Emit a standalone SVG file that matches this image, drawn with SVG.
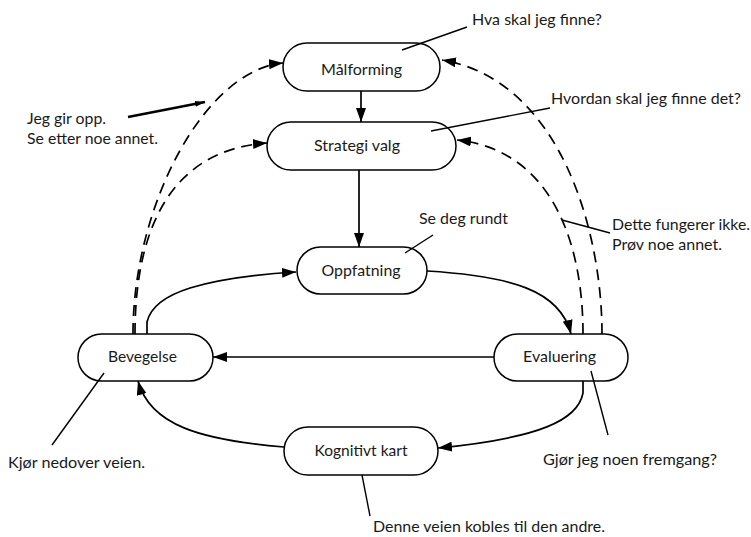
<svg xmlns="http://www.w3.org/2000/svg" width="751" height="537" viewBox="0 0 751 537">
  <defs>
    <marker id="arrow" viewBox="0 0 14 10" refX="14" refY="5" markerWidth="14" markerHeight="10" orient="auto" markerUnits="userSpaceOnUse">
      <path d="M0,0 L14,5 L0,10 z" fill="#000"/>
    </marker>
    <marker id="tip" viewBox="0 0 10 6" refX="10" refY="3" markerWidth="10" markerHeight="6" orient="auto" markerUnits="userSpaceOnUse">
      <path d="M0,0 L10,3 L0,6 z" fill="#000"/>
    </marker>
    <style>
      .node rect { fill: #fff; stroke: #000; stroke-width: 1.5; }
      .node text { font-family: Lato, "Open Sans", sans-serif; font-size: 15px; fill: #1a1a1a; text-anchor: middle; }
      .flow { fill: none; stroke: #000; stroke-width: 1.7; marker-end: url(#arrow); }
      .back { fill: none; stroke: #000; stroke-width: 1.7; stroke-dasharray: 11 7; marker-end: url(#arrow); }
      .note { fill: none; stroke: #000; stroke-width: 1.4; }
      .label { font-family: Lato, "Open Sans", sans-serif; font-size: 16px; fill: #1a1a1a; }
    </style>
  </defs>

  <rect width="751" height="537" fill="#fff"/>

  <!-- connectors -->
  <g id="connectors">
    <path class="flow" d="M361,91 L361,122"/>
    <path class="flow" d="M359,170 L359,247"/>
    <path class="flow" d="M494,357 L213,357"/>
    <path class="flow" d="M147,334 L147,322 Q152,300 190,288 Q230,276 296,272"/>
    <path class="flow" d="M427,271 C510,276 560,290 571,334"/>
    <path class="flow" d="M583,381 L583,393 C578,420 540,438 438,448"/>
    <path class="flow" d="M284,447 C200,440 150,425 138,381"/>

    <!-- dashed loops back to goal and strategy -->
    <path class="back" d="M133,334 C133,205 205,70 283,63"/>
    <path class="back" d="M135,334 C135,230 170,150 267,143"/>
    <path class="back" d="M602,334 C602,230 560,80 442,60"/>
    <path class="back" d="M583,334 C583,240 550,150 457,140"/>
  </g>

  <!-- nodes -->
  <g id="malforming" class="node">
    <rect x="283" y="43" width="157" height="48" rx="24"/>
    <text x="361.5" y="75" textLength="81" lengthAdjust="spacingAndGlyphs">Målforming</text>
  </g>
  <g id="strategi" class="node">
    <rect x="267" y="122" width="189" height="48" rx="24"/>
    <text x="357" y="151" textLength="86" lengthAdjust="spacingAndGlyphs">Strategi valg</text>
  </g>
  <g id="oppfatning" class="node">
    <rect x="297" y="247" width="130" height="47" rx="23.5"/>
    <text x="361" y="276" textLength="79" lengthAdjust="spacingAndGlyphs">Oppfatning</text>
  </g>
  <g id="bevegelse" class="node">
    <rect x="78" y="334" width="135" height="47" rx="23.5"/>
    <text x="142.5" y="362" textLength="69" lengthAdjust="spacingAndGlyphs">Bevegelse</text>
  </g>
  <g id="evaluering" class="node">
    <rect x="494" y="334" width="134" height="47" rx="23.5"/>
    <text x="559.5" y="362" textLength="73" lengthAdjust="spacingAndGlyphs">Evaluering</text>
  </g>
  <g id="kognitivt" class="node">
    <rect x="284" y="427" width="154" height="48" rx="24"/>
    <text x="361" y="456" textLength="93" lengthAdjust="spacingAndGlyphs">Kognitivt kart</text>
  </g>

  <!-- annotations -->
  <g id="annotations">
    <line class="note" x1="402" y1="50" x2="467" y2="27"/>
    <text class="label" x="472" y="25" textLength="130" lengthAdjust="spacingAndGlyphs">Hva skal jeg finne?</text>

    <line class="note" x1="431" y1="131" x2="550" y2="108"/>
    <text class="label" x="551" y="104" textLength="190" lengthAdjust="spacingAndGlyphs">Hvordan skal jeg finne det?</text>

    <line x1="128" y1="117" x2="205" y2="102" stroke="#000" stroke-width="2.4" marker-end="url(#tip)"/>
    <text class="label" x="27" y="124" textLength="79" lengthAdjust="spacingAndGlyphs">Jeg gir opp.</text>
    <text class="label" x="27" y="144" textLength="131" lengthAdjust="spacingAndGlyphs">Se etter noe annet.</text>

    <line class="note" x1="405" y1="253" x2="433" y2="235"/>
    <text class="label" x="419" y="224" textLength="89" lengthAdjust="spacingAndGlyphs">Se deg rundt</text>

    <line class="note" x1="562" y1="220" x2="610" y2="233"/>
    <text class="label" x="612" y="230" textLength="138" lengthAdjust="spacingAndGlyphs">Dette fungerer ikke.</text>
    <text class="label" x="612" y="250" textLength="110" lengthAdjust="spacingAndGlyphs">Prøv noe annet.</text>

    <line class="note" x1="104" y1="373" x2="52" y2="445"/>
    <text class="label" x="8" y="468" textLength="137" lengthAdjust="spacingAndGlyphs">Kjør nedover veien.</text>

    <line class="note" x1="591" y1="371" x2="608" y2="435"/>
    <text class="label" x="543" y="465" textLength="174" lengthAdjust="spacingAndGlyphs">Gjør jeg noen fremgang?</text>

    <line class="note" x1="362" y1="475" x2="370" y2="516"/>
    <text class="label" x="373" y="532" textLength="232" lengthAdjust="spacingAndGlyphs">Denne veien kobles til den andre.</text>
  </g>
</svg>
